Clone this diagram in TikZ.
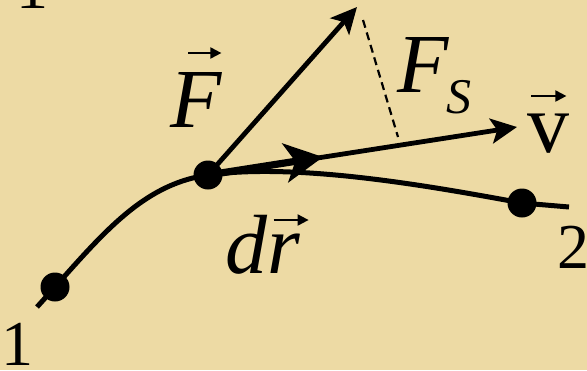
\documentclass[tikz,border=0pt]{standalone}
\usepackage{fontspec}
\setmainfont{Liberation Serif}
\usetikzlibrary{arrows.meta}
\definecolor{parchment}{RGB}{237,218,164}
\definecolor{ink}{RGB}{0,0,0}
\tikzset{
    dot/.style={circle, fill=ink, inner sep=0pt, minimum size=14.5pt},
    trajectory/.style={draw=ink, line width=2.5pt},
    force/.style={-{Stealth[length=13pt, width=12.5pt, inset=3pt]}, line width=2.4pt, draw=ink},
    displacement/.style={-{Stealth[length=19pt, width=19.5pt, inset=5pt]}, line width=3.6pt, draw=ink},
    proj/.style={draw=ink, line width=1.1pt, dash pattern=on 4pt off 2.5pt},
    accent/.style={-{Triangle[length=5.5pt, width=5.5pt]}, line width=1pt, draw=ink},
    letter/.style={inner sep=0pt, anchor=base west, text=ink, text depth=0pt, font=\fontsize{42}{42}\selectfont},
    digit/.style={inner sep=0pt, anchor=base west, text=ink, text depth=0pt, font=\fontsize{32}{32}\selectfont}
}
\newcommand{\arrowover}[4]{\rlap{\hspace*{#2}\raisebox{#3}{\tikz[baseline=0pt]\draw[accent] (0pt,0pt) -- (#4,0pt);}}#1}

\begin{document}
\begin{tikzpicture}[x=0.5pt,y=-0.5pt]
\useasboundingbox (0,0) rectangle (587,370);
\clip (0,0) rectangle (587,370);
\fill[parchment] (0,0) rectangle (587,370);
\coordinate (start) at (37,307);
\node[dot] (one) at (55,287) {};
\node[dot] (mid) at (208,175) {};
\node[dot] (two) at (522,203) {};
\coordinate (end) at (569,207);
\coordinate (Ftip) at (357,7);
\coordinate (vtip) at (517,127);
\coordinate (drtip) at (323,157);
\coordinate (dashtop) at (363,20);
\coordinate (dashfoot) at (398,137);
\draw[trajectory] (start) .. controls (97,241) and (138,185) .. (mid.center) .. controls (300,162) and (440,188) .. (two.center) -- (end);
\draw[force] (mid.center) -- (Ftip);
\draw[force] (mid.center) -- (vtip);
\draw[displacement] (mid.center) -- (drtip);
\draw[proj] (dashtop) -- (dashfoot);
\node[letter] (Flabel) at (170,127) {\arrowover{\textit{F}}{8.5pt}{37pt}{16.5pt}};
\node[letter] (Fslabel) at (397,92) {\textit{F}\kern-1.5pt\raisebox{-10.5pt}{\fontsize{25}{25}\selectfont\textit{S}}};
\node[letter] (drlabel) at (225,273) {\textit{d}\arrowover{\textit{r}}{2.5pt}{26.5pt}{17.5pt}};
\node[letter] (vlabel) at (527,152) {\arrowover{v}{1.5pt}{28pt}{17.5pt}};
\node[digit] (onelabel) at (1,365) {1};
\node[digit] (twolabel) at (557,268) {2};
\node[digit] (toplabel) at (16,8) {1};
\end{tikzpicture}
\end{document}
